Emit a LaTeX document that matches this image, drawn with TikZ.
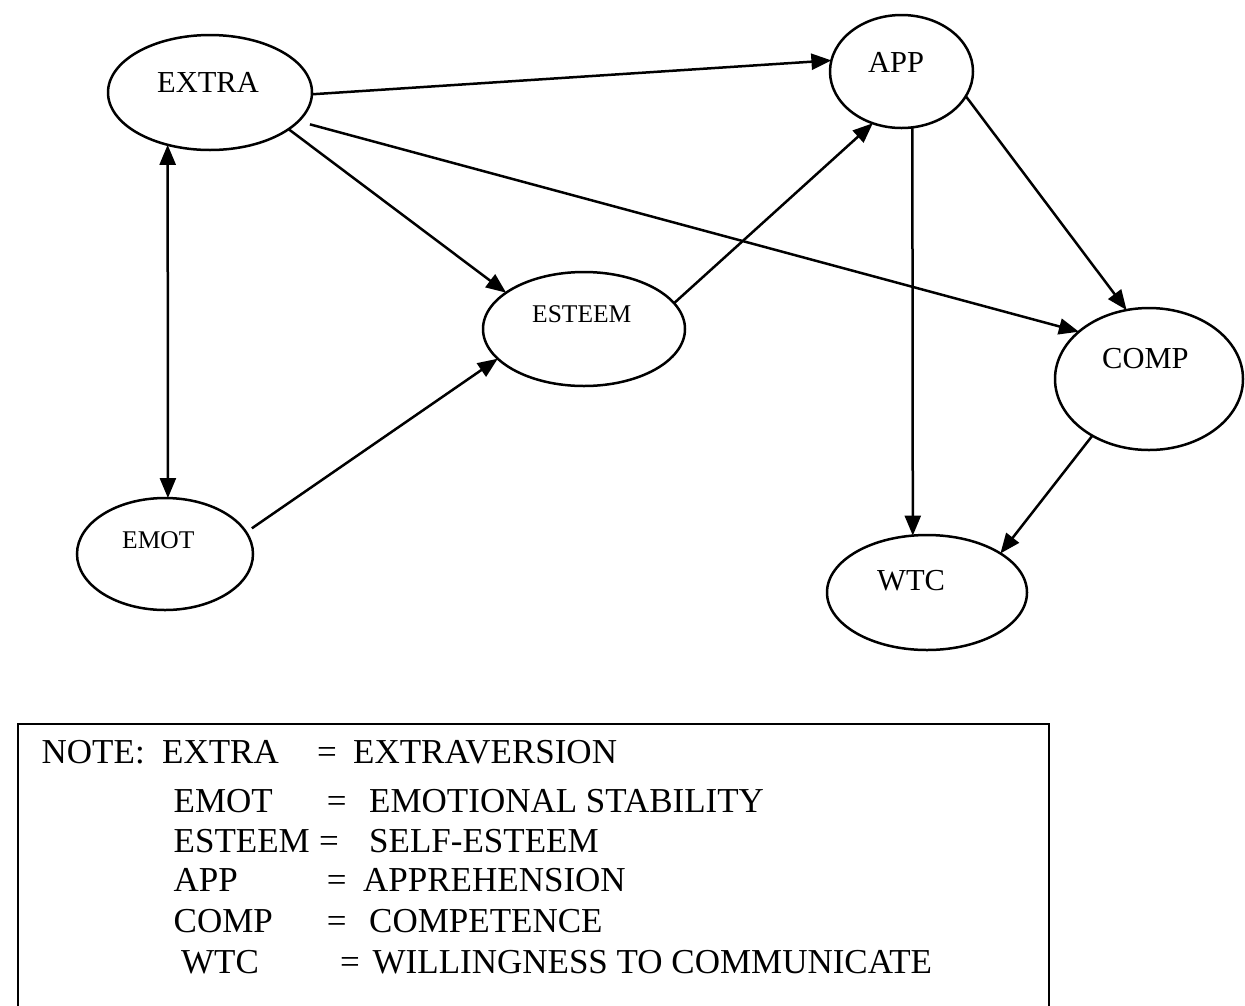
\documentclass[tikz,border=0pt]{standalone}
\usepackage{fontspec}
\setmainfont{Liberation Serif}
\usetikzlibrary{shapes.geometric,arrows.meta}

\begin{document}
\begin{tikzpicture}[x=1pt,y=-1pt,
  >={Triangle[length=20pt,width=16pt]},
  var/.style={ellipse, draw, line width=2.5pt, inner sep=0pt, outer sep=0pt},
  link/.style={line width=2.5pt, ->},
  biglab/.style={anchor=base west, inner sep=0pt, font=\fontsize{30.5}{36}\selectfont},
  smalllab/.style={anchor=base west, inner sep=0pt, font=\fontsize{25.5}{30}\selectfont},
  notetext/.style={anchor=base west, inner sep=0pt, font=\fontsize{35}{40}\selectfont}]

\useasboundingbox (0,0) rectangle (1245,1005);

% latent variables
\node[var, minimum width=204pt, minimum height=115pt] (extra)  at (210,92.5)  {};
\node[var, minimum width=143pt, minimum height=113pt] (app)    at (901.5,71.5) {};
\node[var, minimum width=202pt, minimum height=114pt] (esteem) at (584,329)   {};
\node[var, minimum width=188pt, minimum height=142pt] (comp)   at (1149,379)  {};
\node[var, minimum width=176pt, minimum height=112pt] (emot)   at (165,554)   {};
\node[var, minimum width=200pt, minimum height=115pt] (wtc)    at (927,592.5) {};

% labels sit in the upper part of each ellipse
\node[biglab]   (extra-t)  at (157,92)  {EXTRA};
\node[biglab]   (app-t)    at (868,72)  {APP};
\node[smalllab] (esteem-t) at (532,322) {ESTEEM};
\node[biglab]   (comp-t)   at (1102,368) {COMP};
\node[smalllab] (emot-t)   at (122,548) {EMOT};
\node[biglab]   (wtc-t)    at (877,590) {WTC};

% paths
\draw[link] (extra.-1) -- (app.171);
\draw[link] (extra.-25.7) -- (esteem.155.1);
\draw[link, shorten <=12pt] (extra.-18) -- (comp.146.7);
\draw[line width=2.5pt, <->] (extra.-129) -- (emot.87.3);
\draw[link] (esteem.16.9) -- (app.-119);
\draw[link, shorten <=7pt] (emot.15.2) -- (esteem.199.8);
\draw[link] (app.-21) -- (comp.108.2);
\draw[link] (app.-79.4) -- (wtc.104.8);
\draw[link] (comp.-135.5) -- (wtc.28.9);

% legend frame
\node[draw, rectangle, line width=2pt, inner sep=0pt, anchor=north west,
      minimum width=1031pt, minimum height=300pt] (notebox) at (17,723) {};

% legend text
\node[notetext] (n0)  at (41.5,763) {NOTE:};
\node[notetext] (n1a) at (162,763)  {EXTRA};
\node[notetext] (n1b) at (317,763)  {=};
\node[notetext] (n1c) at (353,763)  {EXTRAVERSION};

\node[notetext] (n2a) at (173.5,812) {EMOT};
\node[notetext] (n2b) at (326.6,812) {=};
\node[notetext] (n2c) at (369,812)   {EMOTIONAL STABILITY};

\node[notetext] (n3a) at (173.5,852) {ESTEEM};
\node[notetext] (n3b) at (319,852)   {=};
\node[notetext] (n3c) at (369,852)   {SELF-ESTEEM};

\node[notetext] (n4a) at (173.5,891) {APP};
\node[notetext] (n4b) at (326.6,891) {=};
\node[notetext] (n4c) at (363,891)   {APPREHENSION};

\node[notetext] (n5a) at (173.5,932) {COMP};
\node[notetext] (n5b) at (326.6,932) {=};
\node[notetext] (n5c) at (369,932)   {COMPETENCE};

\node[notetext] (n6a) at (181,973)   {WTC};
\node[notetext] (n6b) at (340,973)   {=};
\node[notetext] (n6c) at (372.5,973) {WILLINGNESS TO COMMUNICATE};
\end{tikzpicture}
\end{document}
